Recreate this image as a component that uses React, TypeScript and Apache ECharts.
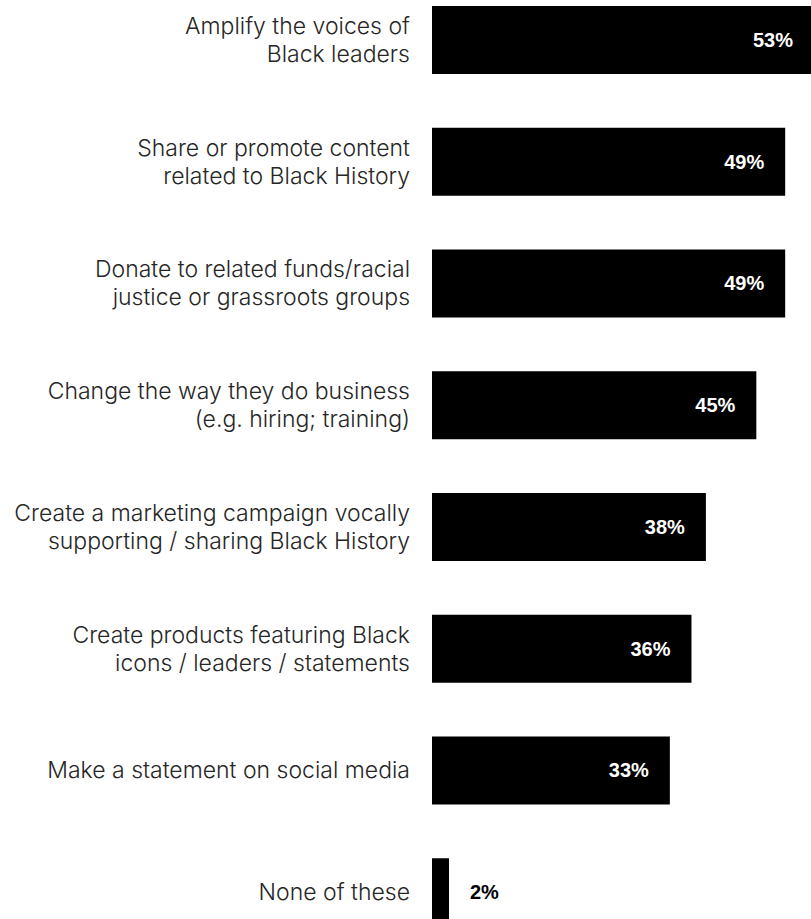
import React, { useEffect, useRef } from "react";
import * as echarts from "echarts";

const categories: string[] = [
  "Amplify the voices of\nBlack leaders",
  "Share or promote content\nrelated to Black History",
  "Donate to related funds/racial\njustice or grassroots groups",
  "Change the way they do business\n(e.g. hiring; training)",
  "Create a marketing campaign vocally\nsupporting / sharing Black History",
  "Create products featuring Black\nicons / leaders / statements",
  "Make a statement on social media",
  "None of these",
];

const values: number[] = [53, 49, 49, 45, 38, 36, 33, 2];

export default function App() {
  const ref = useRef<HTMLDivElement>(null);

  useEffect(() => {
    if (!ref.current) return;
    const chart = echarts.init(ref.current, undefined, { renderer: "svg" });
    chart.setOption({
      animation: false,
      backgroundColor: "#ffffff",
      grid: {
        left: 432,
        top: -21,
        width: 382,
        height: 974,
        containLabel: false,
        outerBoundsMode: "none",
      },
      xAxis: {
        type: "value",
        min: 0,
        max: 53,
        show: false,
      },
      yAxis: {
        type: "category",
        inverse: true,
        data: categories,
        axisLine: { show: false },
        axisTick: { show: false },
        splitLine: { show: false },
        axisLabel: {
          color: "#262626",
          fontFamily: "Inter, 'Open Sans', sans-serif",
          fontWeight: 300,
          fontSize: 23,
          lineHeight: 28,
          align: "right",
          margin: 22,
        },
      },
      series: [
        {
          type: "bar",
          data: values.map((v, i) => ({
            value: v,
            label:
              i === values.length - 1
                ? { position: "right", color: "#000000" }
                : { position: "insideRight", color: "#ffffff" },
          })),
          barWidth: 68,
          barMinHeight: 17,
          clip: false,
          itemStyle: { color: "#000000" },
          label: {
            show: true,
            distance: 21,
            formatter: "{c}%",
            fontFamily: "'Liberation Sans', Arial, sans-serif",
            fontWeight: "bold",
            fontSize: 20,
          },
        },
      ],
    });
    return () => chart.dispose();
  }, []);

  return (
    <div
      ref={ref}
      style={{ position: "absolute", left: 0, top: 0, width: 811, height: 919 }}
    />
  );
}
